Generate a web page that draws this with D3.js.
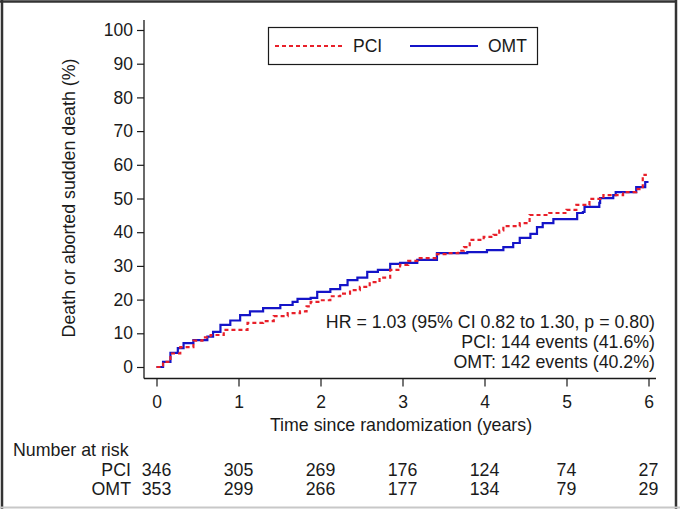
<!DOCTYPE html>
<html>
<head>
<meta charset="utf-8">
<script src="https://cdn.jsdelivr.net/npm/d3@7"></script>
<style>
  html, body { margin: 0; padding: 0; background: #fff; }
  svg { display: block; font-family: "Liberation Sans", Arial, sans-serif; }
</style>
</head>
<body>
<svg id="chart" width="680" height="509"></svg>
<script>
// ---- Data ----
const pciTime = [0, 0.08, 0.17, 0.29, 0.45, 0.56, 0.66, 0.82, 1.11, 1.30, 1.43, 1.60, 1.75, 1.83, 1.88, 2.0, 2.12, 2.24, 2.36, 2.48, 2.60, 2.72, 2.85, 2.97, 3.07, 3.18, 3.42, 3.55, 3.68, 3.75, 3.82, 3.99, 4.11, 4.18, 4.23, 4.43, 4.55, 4.79, 5.0, 5.12, 5.28, 5.45, 5.69, 5.85, 5.93, 5.98];
const pciRisk = [0, 1.5, 4.0, 5.9, 7.8, 8.8, 9.5, 11.0, 13.1, 13.6, 15.1, 16.0, 16.5, 18.0, 19.3, 19.8, 21.0, 21.8, 22.8, 23.8, 25.2, 26.5, 28.8, 30.3, 31.5, 32.3, 33.5, 33.8, 34.5, 35.6, 37.7, 38.6, 39.2, 40.5, 41.8, 42.7, 45.1, 45.7, 46.6, 48.1, 49.9, 51.0, 51.9, 52.8, 57.0, 57.0];
const omtTime = [0, 0.08, 0.17, 0.26, 0.33, 0.45, 0.62, 0.69, 0.78, 0.90, 1.02, 1.14, 1.30, 1.51, 1.66, 1.72, 1.88, 1.96, 2.12, 2.24, 2.33, 2.45, 2.57, 2.70, 2.85, 2.97, 3.18, 3.42, 3.79, 4.03, 4.23, 4.35, 4.43, 4.56, 4.64, 4.71, 4.84, 5.13, 5.20, 5.22, 5.40, 5.41, 5.57, 5.60, 5.85, 5.96, 6.0];
const omtRisk = [0, 1.5, 4.2, 5.6, 7.1, 8.0, 9.0, 10.4, 12.5, 13.8, 15.4, 16.5, 17.5, 18.4, 19.3, 20.2, 20.5, 22.3, 23.1, 24.3, 25.8, 26.5, 28.2, 28.8, 30.6, 30.9, 31.8, 33.8, 34.1, 34.7, 35.6, 36.8, 38.3, 39.5, 41.5, 42.7, 43.9, 45.7, 46.0, 47.5, 48.7, 50.1, 51.0, 51.9, 53.4, 54.9, 54.9];

const yTicks = [0, 10, 20, 30, 40, 50, 60, 70, 80, 90, 100];
const xTicks = [0, 1, 2, 3, 4, 5, 6];
const riskGroups = ["PCI", "OMT"];
const riskPCI = [346, 305, 269, 176, 124, 74, 27];
const riskOMT = [353, 299, 266, 177, 134, 79, 29];
const annotation = [
  "HR = 1.03 (95% CI 0.82 to 1.30, p = 0.80)",
  "PCI: 144 events (41.6%)",
  "OMT: 142 events (40.2%)"
];
const yTitle = "Death or aborted sudden death (%)";
const xTitle = "Time since randomization (years)";

// ---- Drawing ----
const svg = d3.select("#chart");
const x = d3.scaleLinear().domain([0, 6]).range([156.5, 648.5]);
const y = d3.scaleLinear().domain([0, 100]).range([367, 30]);
const ink = "#1a1a1a";
const fs = 17.8;

// outer frame
svg.append("line").attr("x1", 2).attr("x2", 2).attr("y1", 0).attr("y2", 509).attr("stroke", "#333").attr("stroke-width", 2.5);
svg.append("line").attr("x1", 0).attr("x2", 677).attr("y1", 1.5).attr("y2", 1.5).attr("stroke", "#333").attr("stroke-width", 2.5);
svg.append("line").attr("x1", 676).attr("x2", 676).attr("y1", 0).attr("y2", 509).attr("stroke", "#333").attr("stroke-width", 2.5);
svg.append("line").attr("x1", 0).attr("x2", 680).attr("y1", 507.5).attr("y2", 507.5).attr("stroke", "#c8c8c8").attr("stroke-width", 2);

// Y axis
const yAxisX = 144;
const yAxis = d3.axisLeft(y).tickValues(yTicks).tickSize(7).tickPadding(4).tickSizeOuter(0);
const gy = svg.append("g").attr("transform", `translate(${yAxisX},0)`).call(yAxis);
gy.select(".domain").remove();
gy.selectAll(".tick line").attr("stroke", ink).attr("stroke-width", 1.2);
gy.selectAll(".tick text").attr("font-size", 17.5).attr("fill", ink).attr("font-family", "Liberation Sans, Arial, sans-serif");
svg.append("line").attr("x1", yAxisX).attr("x2", yAxisX).attr("y1", 20).attr("y2", 378.5).attr("stroke", ink).attr("stroke-width", 1.3);

// X axis
const xAxisY = 378.5;
const xAxis = d3.axisBottom(x).tickValues(xTicks).tickFormat(d3.format("d")).tickSize(8).tickPadding(9).tickSizeOuter(0);
const gx = svg.append("g").attr("transform", `translate(0,${xAxisY})`).call(xAxis);
gx.select(".domain").remove();
gx.selectAll(".tick line").attr("stroke", ink).attr("stroke-width", 1.2);
gx.selectAll(".tick text").attr("font-size", 17.5).attr("fill", ink).attr("font-family", "Liberation Sans, Arial, sans-serif");
svg.append("line").attr("x1", yAxisX).attr("x2", 656).attr("y1", xAxisY).attr("y2", xAxisY).attr("stroke", ink).attr("stroke-width", 1.3);

// axis titles
svg.append("text").attr("transform", `translate(75,198) rotate(-90)`)
  .attr("text-anchor", "middle").attr("font-size", fs).attr("fill", ink).text(yTitle);
svg.append("text").attr("x", 401).attr("y", 431)
  .attr("text-anchor", "middle").attr("font-size", fs).attr("fill", ink).text(xTitle);

// curves
const line = d3.line().x(d => x(d[0])).y(d => y(d[1])).curve(d3.curveStepAfter);
const pciData = pciTime.map((t, i) => [t, pciRisk[i]]);
const omtData = omtTime.map((t, i) => [t, omtRisk[i]]);
svg.append("path").datum(omtData).attr("d", line).attr("fill", "none")
  .attr("stroke", "#1414c8").attr("stroke-width", 2.2);
svg.append("path").datum(pciData).attr("d", line).attr("fill", "none")
  .attr("stroke", "#e8202a").attr("stroke-width", 2.2).attr("stroke-dasharray", "4,3");

// annotation
annotation.forEach((s, i) => {
  svg.append("text").attr("x", 655).attr("y", 328 + i * 20).attr("text-anchor", "end")
    .attr("font-size", fs).attr("fill", ink).text(s);
});

// legend
const lg = svg.append("g");
lg.append("rect").attr("x", 268.5).attr("y", 27.5).attr("width", 269).attr("height", 37)
  .attr("fill", "#fff").attr("stroke", ink).attr("stroke-width", 1.2);
lg.append("line").attr("x1", 275).attr("x2", 343).attr("y1", 46).attr("y2", 46)
  .attr("stroke", "#e8202a").attr("stroke-width", 2).attr("stroke-dasharray", "4,3");
lg.append("text").attr("x", 353).attr("y", 52).attr("font-size", 17.5).attr("fill", ink).text(riskGroups[0]);
lg.append("line").attr("x1", 410).attr("x2", 478).attr("y1", 46).attr("y2", 46)
  .attr("stroke", "#1414c8").attr("stroke-width", 2);
lg.append("text").attr("x", 488).attr("y", 52).attr("font-size", 17.5).attr("fill", ink).text(riskGroups[1]);

// number at risk table
svg.append("text").attr("x", 13).attr("y", 456).attr("font-size", fs).attr("fill", ink).text("Number at risk");
[riskPCI, riskOMT].forEach((row, r) => {
  const yy = 476 + r * 19;
  svg.append("text").attr("x", 131).attr("y", yy).attr("text-anchor", "end")
    .attr("font-size", fs).attr("fill", ink).text(riskGroups[r]);
  svg.selectAll(null).data(row).enter().append("text")
    .attr("x", (d, i) => x(xTicks[i])).attr("y", yy).attr("text-anchor", "middle")
    .attr("font-size", fs).attr("fill", ink).text(d => d);
});
</script>
</body>
</html>
